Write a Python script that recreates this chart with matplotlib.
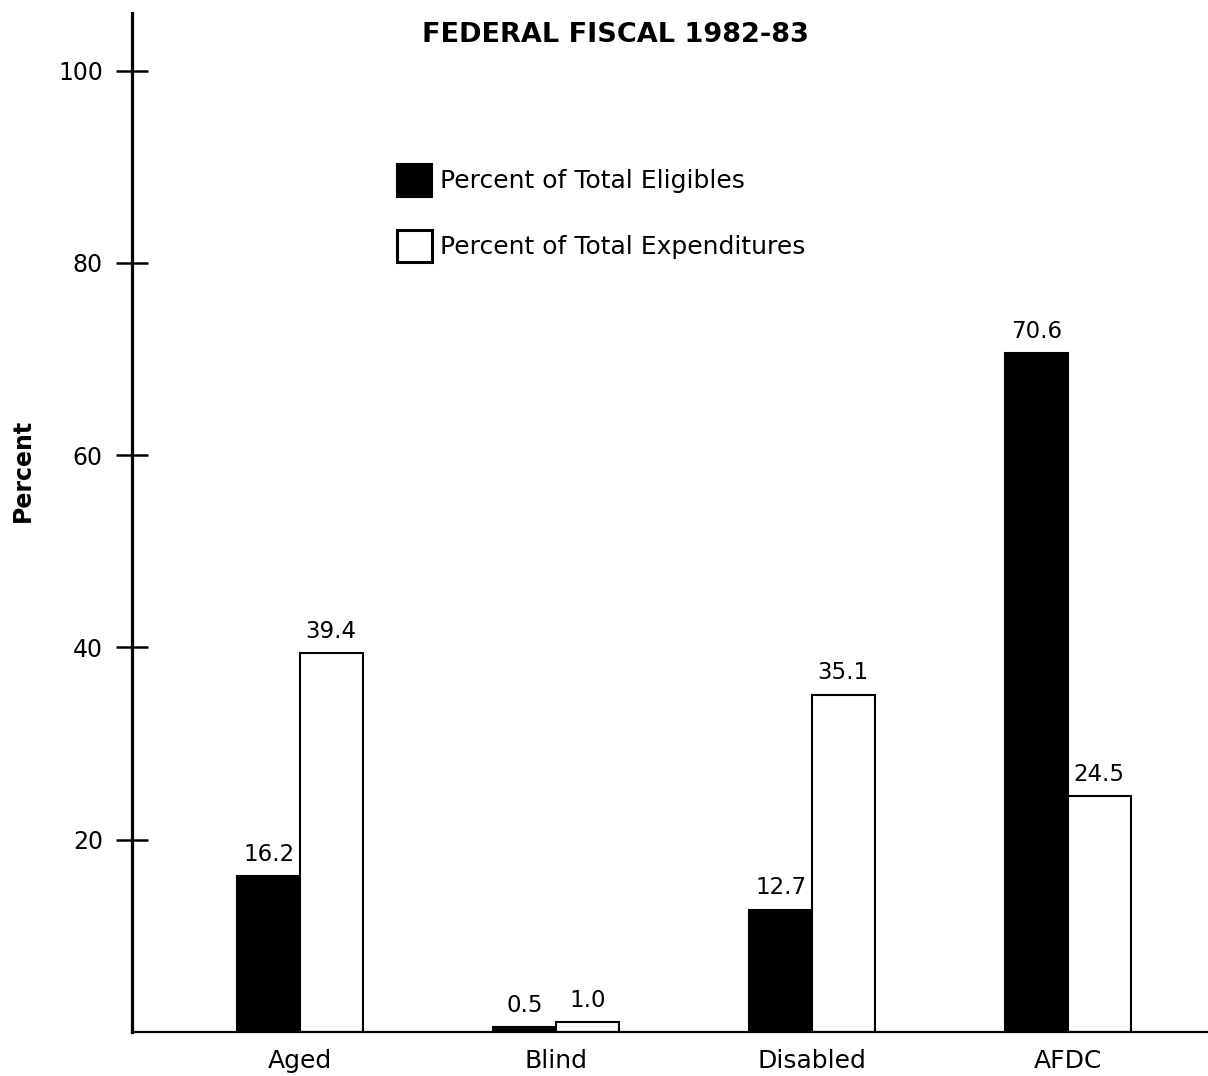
import matplotlib
matplotlib.use("Agg")
import matplotlib.pyplot as plt
import numpy as np
from matplotlib.patches import Patch

plt.rcParams['font.family'] = ['DejaVu Sans']

# Medicaid eligibles vs expenditures by group, federal fiscal 1982-83
categories = ["Aged", "Blind", "Disabled", "AFDC"]
pct_eligibles = [16.2, 0.5, 12.7, 70.6]
pct_expenditures = [39.4, 1.0, 35.1, 24.5]
yticks = [20, 40, 60, 80, 100]

fig = plt.figure(figsize=(12.08, 10.76), dpi=100)
ax = fig.add_axes([132 / 1208, 1 - 1032 / 1076, 1 - 132 / 1208, (1032 - 13) / 1076])

x = np.arange(len(categories))
w = 0.245
b1 = ax.bar(x - w / 2, pct_eligibles, w, color="black", edgecolor="black", linewidth=1.5)
b2 = ax.bar(x + w / 2, pct_expenditures, w, color="white", edgecolor="black", linewidth=1.5)

# value labels above each bar
for bars, vals in ((b1, pct_eligibles), (b2, pct_expenditures)):
    for r, v in zip(bars, vals):
        ax.annotate(f"{v:.1f}", (r.get_x() + r.get_width() / 2, v),
                    xytext=(0, 7.5), textcoords="offset points",
                    ha="center", va="bottom", fontsize=16.5)

ax.set_xlim(-0.656, 3.547)
ax.set_ylim(0, 106)
ax.set_xticks(x)
ax.set_xticklabels(categories, fontsize=18)
ax.set_yticks(yticks)
ax.set_yticklabels([str(t) for t in yticks], fontsize=17)
ax.tick_params(axis="x", length=0, pad=12)
ax.tick_params(axis="y", direction="inout", length=23, width=1.8, pad=9.5)

for s in ("top", "right"):
    ax.spines[s].set_visible(False)
ax.spines["left"].set_linewidth(2.3)
ax.spines["bottom"].set_linewidth(1.6)

fig.text(23 / 1208, 1 - 470 / 1076, "Percent", rotation=90, ha="center", va="center",
         fontsize=17, fontweight="bold")
fig.text(615 / 1208, 1 - 35 / 1076, "FEDERAL FISCAL 1982-83", ha="center", va="center",
         fontsize=19.5, fontweight="bold")

handles = [Patch(facecolor="black", edgecolor="black", linewidth=1.5),
           Patch(facecolor="white", edgecolor="black", linewidth=2.2)]
ax.legend(handles, ["Percent of Total Eligibles", "Percent of Total Expenditures"],
          loc="upper left", bbox_to_anchor=(397 / 1208, 1 - 164 / 1076),
          bbox_transform=fig.transFigure, frameon=False, fontsize=18,
          handlelength=1.4, handleheight=1.63, handletextpad=0.32,
          labelspacing=1.32, borderaxespad=0, borderpad=0)

fig.savefig("out.png", dpi=100)
